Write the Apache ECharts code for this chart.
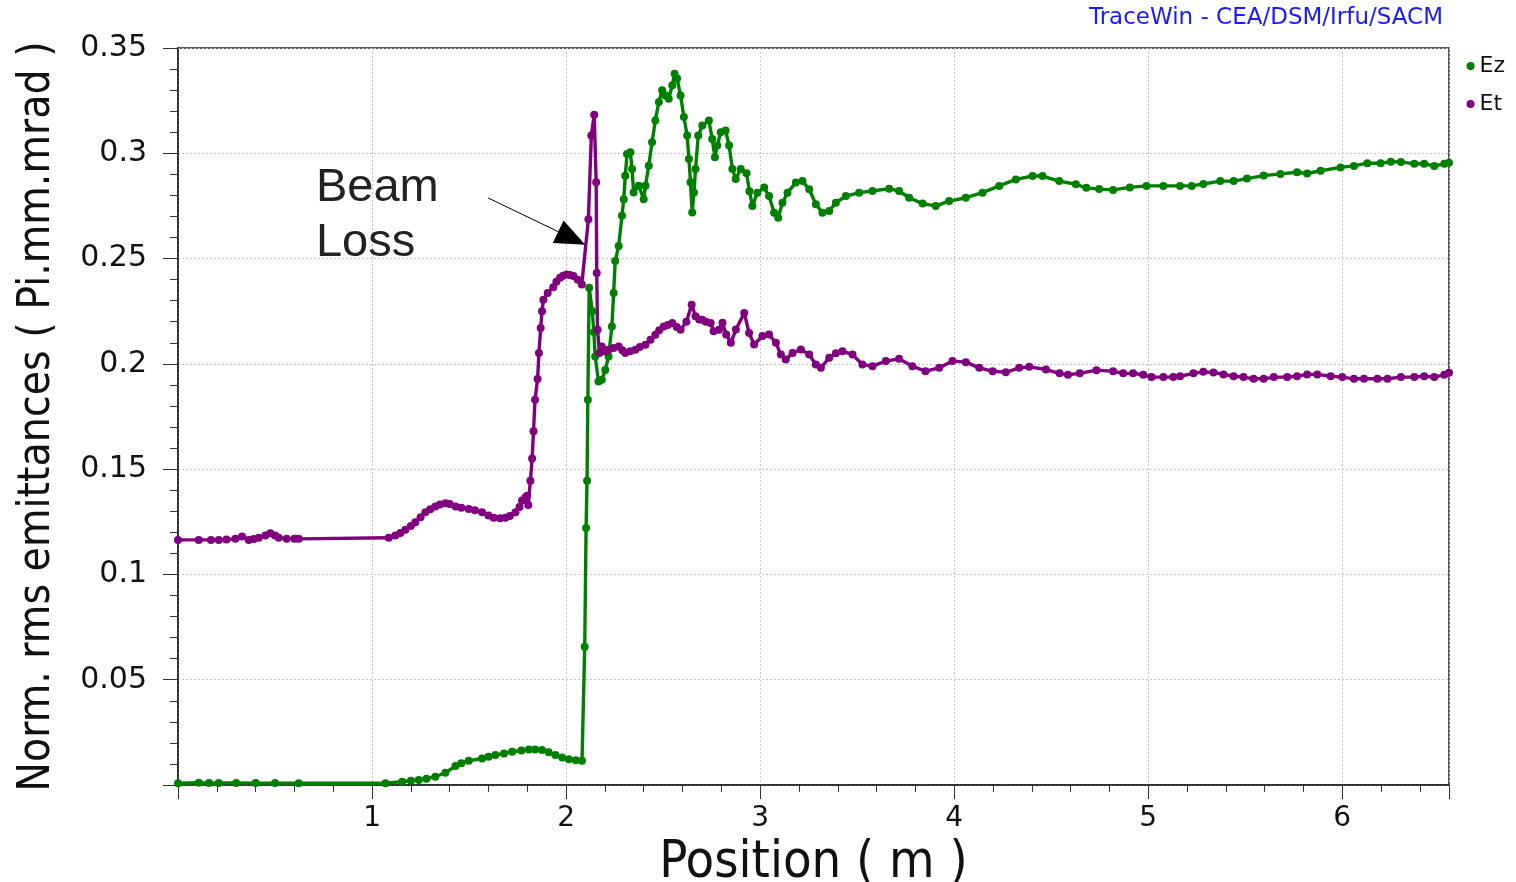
<!DOCTYPE html>
<html>
<head>
<meta charset="utf-8">
<script src="https://cdn.jsdelivr.net/npm/echarts@6/dist/echarts.min.js"></script>
<style>
  html, body { margin: 0; padding: 0; background: #ffffff; }
  #chart { width: 1516px; height: 882px; }
</style>
</head>
<body>
<div id="chart"></div>
<script>
// Longitudinal (Ez) and transverse (Et) normalised rms emittances along the line
const ezPos = [0.000, 0.107, 0.16, 0.21, 0.30, 0.40, 0.50, 0.622, 1.069, 1.155, 1.20, 1.241, 1.28, 1.326, 1.378, 1.43, 1.46, 1.498, 1.567, 1.60, 1.636, 1.68, 1.722, 1.77, 1.808, 1.84, 1.876, 1.91, 1.945, 1.98, 2.014, 2.05, 2.082, 2.096, 2.103, 2.108, 2.112, 2.119, 2.135, 2.143, 2.15, 2.167, 2.184, 2.202, 2.219, 2.236, 2.245, 2.253, 2.271, 2.288, 2.297, 2.305, 2.314, 2.331, 2.34, 2.348, 2.374, 2.40, 2.409, 2.426, 2.443, 2.46, 2.478, 2.495, 2.512, 2.529, 2.547, 2.559, 2.572, 2.59, 2.607, 2.624, 2.633, 2.641, 2.65, 2.659, 2.667, 2.681, 2.702, 2.736, 2.753, 2.767, 2.779, 2.797, 2.822, 2.84, 2.857, 2.874, 2.90, 2.93, 2.945, 2.96, 2.986, 3.021, 3.046, 3.072, 3.093, 3.115, 3.141, 3.184, 3.218, 3.253, 3.287, 3.321, 3.356, 3.39, 3.442, 3.51, 3.579, 3.665, 3.716, 3.768, 3.837, 3.905, 3.974, 4.06, 4.146, 4.232, 4.318, 4.404, 4.455, 4.541, 4.627, 4.681, 4.747, 4.819, 4.905, 4.991, 5.078, 5.164, 5.224, 5.284, 5.371, 5.44, 5.509, 5.595, 5.681, 5.767, 5.819, 5.888, 5.991, 6.06, 6.129, 6.198, 6.25, 6.302, 6.371, 6.422, 6.474, 6.526, 6.55];
const ezVal = [0.0008, 0.0011, 0.0009, 0.0010, 0.0010, 0.0009, 0.0009, 0.0008, 0.0008, 0.0016, 0.0020, 0.0024, 0.0030, 0.0039, 0.0058, 0.0090, 0.0103, 0.0115, 0.0126, 0.0134, 0.0142, 0.0150, 0.0158, 0.0164, 0.0169, 0.0169, 0.0166, 0.0155, 0.0142, 0.0131, 0.0122, 0.0117, 0.0115, 0.0656, 0.1220, 0.1445, 0.1830, 0.2361, 0.2250, 0.2150, 0.2035, 0.1916, 0.1924, 0.1971, 0.2035, 0.2178, 0.2337, 0.2488, 0.2560, 0.2703, 0.2782, 0.2893, 0.2997, 0.3005, 0.2925, 0.2814, 0.2846, 0.2782, 0.2846, 0.2941, 0.3052, 0.3156, 0.3243, 0.3299, 0.3275, 0.3259, 0.3323, 0.3378, 0.3355, 0.3275, 0.3172, 0.3084, 0.2973, 0.2862, 0.2719, 0.2814, 0.2925, 0.3084, 0.3132, 0.3156, 0.3068, 0.2981, 0.3037, 0.3100, 0.3108, 0.3037, 0.2925, 0.2878, 0.2925, 0.2905, 0.2820, 0.2750, 0.2813, 0.2837, 0.2797, 0.2718, 0.2694, 0.2765, 0.2813, 0.2861, 0.2868, 0.2829, 0.2758, 0.2718, 0.2726, 0.2765, 0.2797, 0.2813, 0.2821, 0.2832, 0.2821, 0.2789, 0.2761, 0.2750, 0.2773, 0.2789, 0.2813, 0.2845, 0.2876, 0.2892, 0.2892, 0.2868, 0.2853, 0.2836, 0.2830, 0.2826, 0.2838, 0.2845, 0.2845, 0.2845, 0.2845, 0.2854, 0.2868, 0.2868, 0.2880, 0.2894, 0.2902, 0.2910, 0.2904, 0.2917, 0.2933, 0.2940, 0.2953, 0.2953, 0.2960, 0.2959, 0.2950, 0.2950, 0.2940, 0.2950, 0.2955];

const etPos = [0.000, 0.107, 0.17, 0.21, 0.25, 0.296, 0.33, 0.365, 0.39, 0.416, 0.45, 0.476, 0.50, 0.519, 0.56, 0.60, 0.622, 1.086, 1.12, 1.146, 1.172, 1.20, 1.223, 1.25, 1.275, 1.30, 1.326, 1.35, 1.378, 1.40, 1.43, 1.46, 1.498, 1.53, 1.567, 1.60, 1.627, 1.66, 1.687, 1.71, 1.739, 1.76, 1.773, 1.79, 1.799, 1.805, 1.816, 1.825, 1.832, 1.84, 1.853, 1.86, 1.869, 1.876, 1.883, 1.905, 1.934, 1.95, 1.969, 1.985, 2.003, 2.02, 2.038, 2.06, 2.081, 2.115, 2.13, 2.145, 2.155, 2.158, 2.162, 2.172, 2.184, 2.20, 2.219, 2.245, 2.271, 2.29, 2.305, 2.33, 2.357, 2.38, 2.409, 2.435, 2.46, 2.48, 2.503, 2.525, 2.547, 2.57, 2.59, 2.62, 2.647, 2.667, 2.686, 2.702, 2.72, 2.745, 2.76, 2.788, 2.806, 2.825, 2.849, 2.875, 2.918, 2.943, 2.969, 3.012, 3.046, 3.081, 3.107, 3.132, 3.167, 3.21, 3.253, 3.287, 3.313, 3.356, 3.39, 3.424, 3.476, 3.527, 3.579, 3.648, 3.716, 3.784, 3.852, 3.923, 3.991, 4.06, 4.129, 4.198, 4.266, 4.335, 4.387, 4.473, 4.543, 4.586, 4.647, 4.733, 4.819, 4.871, 4.922, 4.974, 5.017, 5.078, 5.129, 5.164, 5.233, 5.284, 5.336, 5.388, 5.44, 5.491, 5.543, 5.595, 5.647, 5.716, 5.767, 5.819, 5.871, 5.94, 6.00, 6.06, 6.112, 6.181, 6.233, 6.302, 6.371, 6.422, 6.474, 6.526, 6.55];
const etVal = [0.1164, 0.1164, 0.1164, 0.1164, 0.1166, 0.1169, 0.1180, 0.1164, 0.1168, 0.1174, 0.1185, 0.1196, 0.1185, 0.1174, 0.1170, 0.1169, 0.1169, 0.1174, 0.1185, 0.1197, 0.1212, 0.1230, 0.1248, 0.1272, 0.1295, 0.1310, 0.1322, 0.1332, 0.1338, 0.1335, 0.1322, 0.1317, 0.1311, 0.1305, 0.1295, 0.1280, 0.1269, 0.1267, 0.1269, 0.1278, 0.1295, 0.1320, 0.1351, 0.1365, 0.1374, 0.1330, 0.1445, 0.1550, 0.1680, 0.1830, 0.1928, 0.2051, 0.2170, 0.2250, 0.2305, 0.2337, 0.2364, 0.2390, 0.2409, 0.2418, 0.2424, 0.2422, 0.2417, 0.2400, 0.2377, 0.2687, 0.3084, 0.3183, 0.2862, 0.2432, 0.2162, 0.2051, 0.2083, 0.2060, 0.2067, 0.2075, 0.2083, 0.2065, 0.2051, 0.2060, 0.2067, 0.2080, 0.2091, 0.2115, 0.2138, 0.2160, 0.2178, 0.2185, 0.2194, 0.2175, 0.2162, 0.2200, 0.2281, 0.2226, 0.2211, 0.2210, 0.2200, 0.2194, 0.2155, 0.2162, 0.2195, 0.2140, 0.2100, 0.2163, 0.2242, 0.2147, 0.2092, 0.2132, 0.2139, 0.2100, 0.2044, 0.2021, 0.2052, 0.2068, 0.2044, 0.1997, 0.1981, 0.2029, 0.2050, 0.2060, 0.2044, 0.1997, 0.1989, 0.2013, 0.2024, 0.1989, 0.1965, 0.1981, 0.2013, 0.2008, 0.1981, 0.1965, 0.1960, 0.1981, 0.1986, 0.1973, 0.1955, 0.1948, 0.1955, 0.1970, 0.1965, 0.1955, 0.1955, 0.1948, 0.1937, 0.1937, 0.1937, 0.1941, 0.1955, 0.1962, 0.1959, 0.1950, 0.1941, 0.1937, 0.1929, 0.1929, 0.1937, 0.1937, 0.1941, 0.1950, 0.1950, 0.1941, 0.1937, 0.1929, 0.1929, 0.1929, 0.1929, 0.1937, 0.1937, 0.1941, 0.1937, 0.1948, 0.1958];

const seriesNames = ['Ez', 'Et'];
const seriesColors = ['#008000', '#800080'];
const xTicks = [0, 1, 2, 3, 4, 5, 6];
const xEnd = 6.55;
const yTicks = [0, 0.05, 0.1, 0.15, 0.2, 0.25, 0.3, 0.35];

// "Beam Loss" note and its arrow, in data units
const noteText = 'Beam\nLoss';
const noteAnchor = [0.711, 0.2964];
const arrowFrom = [1.598, 0.2788];
const arrowTo = [2.029, 0.2597];

const zip = (xs, ys) => xs.map((x, i) => [x, ys[i]]);

const chart = echarts.init(document.getElementById('chart'), null, { renderer: 'canvas' });

const lineSeries = (name, data, color, extra) => Object.assign({
  name: name,
  type: 'line',
  data: data,
  symbol: 'circle',
  symbolSize: 8,
  showSymbol: true,
  showAllSymbol: true,
  clip: true,
  itemStyle: { color: color },
  lineStyle: { color: color, width: 3.4 },
  emphasis: { disabled: true },
  animation: false
}, extra || {});

const axisFont = 'DejaVu Sans';
const titleFont = '"DejaVu Sans Condensed", "DejaVu Sans"';

chart.setOption({
  backgroundColor: '#ffffff',
  animation: false,
  title: {
    text: 'TraceWin - CEA/DSM/Irfu/SACM',
    right: 68,
    top: 2,
    textStyle: { color: '#1a1aff', fontSize: 23, fontWeight: 'normal', fontFamily: axisFont }
  },
  legend: {
    data: seriesNames,
    orient: 'vertical',
    right: 6,
    top: 50,
    icon: 'circle',
    itemWidth: 8,
    itemHeight: 8,
    itemGap: 16,
    textStyle: { fontSize: 22, color: '#111', fontFamily: axisFont },
    selectedMode: false
  },
  grid: {
    left: 178, right: 67, top: 48, bottom: 97,
    containLabel: false,
    outerBoundsMode: 'none',
    show: true,
    borderColor: '#222',
    borderWidth: 1.5,
    backgroundColor: 'transparent'
  },
  xAxis: {
    type: 'value',
    min: xTicks[0],
    max: xEnd,
    interval: xTicks[1] - xTicks[0],
    name: 'Position ( m )',
    nameLocation: 'middle',
    nameGap: 48,
    nameTextStyle: { fontSize: 52, color: '#111', fontFamily: titleFont },
    axisLine: { show: true, lineStyle: { color: '#222', width: 1.5 } },
    axisTick: { show: true, inside: false, length: 14, lineStyle: { color: '#333', width: 1 } },
    minorTick: { show: true, splitNumber: 5, length: 7, lineStyle: { color: '#333', width: 1 } },
    axisLabel: {
      fontSize: 28, color: '#111', fontFamily: axisFont, margin: 20,
      showMinLabel: false, showMaxLabel: false,
      formatter: v => (xTicks.indexOf(v) > 0 ? String(v) : '')
    },
    splitLine: { show: true, lineStyle: { color: '#c4c4c4', type: [2, 2], width: 1 } },
    minorSplitLine: { show: false }
  },
  yAxis: {
    type: 'value',
    min: yTicks[0],
    max: yTicks[yTicks.length - 1],
    interval: yTicks[1] - yTicks[0],
    name: 'Norm. rms emittances ( Pi.mm.mrad )',
    nameLocation: 'middle',
    nameGap: 118,
    nameRotate: 90,
    nameTextStyle: { fontSize: 44, color: '#111', fontFamily: titleFont },
    axisLine: { show: true, lineStyle: { color: '#222', width: 1.5 } },
    axisTick: { show: true, inside: false, length: 15, lineStyle: { color: '#333', width: 1 } },
    minorTick: { show: true, splitNumber: 5, length: 8, lineStyle: { color: '#333', width: 1 } },
    axisLabel: {
      fontSize: 30, color: '#111', fontFamily: axisFont, margin: 31,
      formatter: v => (v === 0 ? '' : String(+v.toFixed(2)))
    },
    splitLine: { show: true, lineStyle: { color: '#c4c4c4', type: [2, 2], width: 1 } },
    minorSplitLine: { show: false }
  },
  series: [
    lineSeries(seriesNames[0], zip(ezPos, ezVal), seriesColors[0]),
    lineSeries(seriesNames[1], zip(etPos, etVal), seriesColors[1], {
      markLine: {
        silent: true,
        animation: false,
        symbol: ['none', 'triangle'],
        symbolSize: [25, 30],
        label: { show: false },
        lineStyle: { color: '#000', width: 1, type: 'solid' },
        emphasis: { disabled: true },
        data: [[{ coord: arrowFrom }, { coord: arrowTo }]]
      }
    })
  ]
});

// Place the note text once the axes are laid out
const notePx = chart.convertToPixel({ gridIndex: 0 }, noteAnchor);
chart.setOption({
  graphic: [{
    type: 'text',
    left: notePx[0],
    top: notePx[1],
    silent: true,
    style: {
      text: noteText,
      fill: '#222',
      font: '47px "Liberation Sans", Arial, sans-serif',
      lineHeight: 55
    }
  }]
});
</script>
</body>
</html>
